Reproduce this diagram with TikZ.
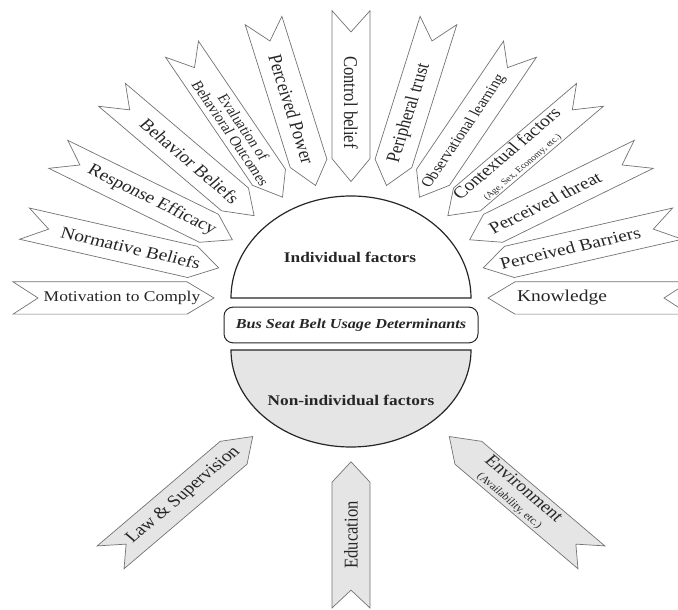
\documentclass[tikz,border=0pt]{standalone}
\usepackage{fontspec}
\setmainfont{Liberation Serif}
\begin{document}
\begin{tikzpicture}[x=1pt, y=1pt,
    factor/.style={draw=black!55, fill=white, line width=0.7pt},
    nonfactor/.style={factor, fill=gray!20},
    dome/.style={draw=black!85, line width=1.2pt},
    lbl/.style={inner sep=0pt, text=black!85, align=center, font=\fontsize{19.5}{20}\selectfont},
    lblsmall/.style={lbl, font=\fontsize{16}{15}\selectfont},
    head/.style={inner sep=0pt, text=black!85, yscale=0.85, font=\bfseries\fontsize{17.3}{18}\selectfont}]
\clip (0,0) rectangle (678,610);

% centre
\draw[dome, fill=white] (231,312) arc[start angle=180, end angle=0, x radius=120pt, y radius=102pt] -- cycle;
\draw[dome, fill=gray!20] (231,260) arc[start angle=180, end angle=360, x radius=120pt, y radius=97pt] -- cycle;
\node[draw=black!85, line width=1pt, rounded corners=9pt, minimum width=254pt, minimum height=42pt, yscale=0.85,
      text=black!85, font=\bfseries\itshape\fontsize{16.2}{17}\selectfont] (usage) at (351,285) {Bus Seat Belt Usage Determinants};
\node[head] (indiv) at (350,353) {Individual factors};
\node[head] (nonindiv) at (351,210) {Non-individual factors};

% individual factors
\begin{scope}[shift={(351,312)}, yscale=0.85, transform shape]
\draw[factor, rotate=180] (137,0) -- (164,19) -- (338,19) -- (313,0) -- (338,-19) -- (164,-19) -- cycle;
\draw[factor, rotate=165] (137,0) -- (164,19) -- (338,19) -- (313,0) -- (338,-19) -- (164,-19) -- cycle;
\draw[factor, rotate=150] (137,0) -- (164,19) -- (338,19) -- (313,0) -- (338,-19) -- (164,-19) -- cycle;
\draw[factor, rotate=135] (137,0) -- (164,19) -- (338,19) -- (313,0) -- (338,-19) -- (164,-19) -- cycle;
\draw[factor, rotate=120] (137,0) -- (164,19) -- (338,19) -- (313,0) -- (338,-19) -- (164,-19) -- cycle;
\draw[factor, rotate=105] (137,0) -- (164,19) -- (338,19) -- (313,0) -- (338,-19) -- (164,-19) -- cycle;
\draw[factor, rotate=90] (137,0) -- (164,19) -- (338,19) -- (313,0) -- (338,-19) -- (164,-19) -- cycle;
\draw[factor, rotate=75] (137,0) -- (164,19) -- (338,19) -- (313,0) -- (338,-19) -- (164,-19) -- cycle;
\draw[factor, rotate=60] (137,0) -- (164,19) -- (338,19) -- (313,0) -- (338,-19) -- (164,-19) -- cycle;
\draw[factor, rotate=45] (137,0) -- (164,19) -- (338,19) -- (313,0) -- (338,-19) -- (164,-19) -- cycle;
\draw[factor, rotate=30] (137,0) -- (164,19) -- (338,19) -- (313,0) -- (338,-19) -- (164,-19) -- cycle;
\draw[factor, rotate=15] (137,0) -- (164,19) -- (338,19) -- (313,0) -- (338,-19) -- (164,-19) -- cycle;
\draw[factor] (137,0) -- (164,19) -- (338,19) -- (313,0) -- (338,-19) -- (164,-19) -- cycle;
\node[lbl, font=\fontsize{17.5}{18}\selectfont] (motiv) at (180:229) {Motivation to Comply};
\node[lbl, rotate=-15] (norm) at (165:228) {Normative Beliefs};
\node[lbl, rotate=-30] (resp) at (150:230) {Response Efficacy};
\node[lbl, rotate=-45] (behav) at (135:228) {Behavior Beliefs};
\node[lblsmall, rotate=-60] (eval) at (120:228) {Evaluation of\\Behavioral Outcomes};
\node[lbl, rotate=-75] (power) at (105:230) {Perceived Power};
\node[lbl, rotate=-90] (ctrl) at (90:230) {Control belief};
\node[lbl, rotate=75] (trust) at (75:225) {Peripheral trust};
\node[lbl, rotate=60, font=\fontsize{16.5}{17}\selectfont] (observ) at (60:226) {Observational learning};
\node[lbl, rotate=45] (context) at (45:230) {Contextual factors\\[-1pt]{\fontsize{10}{10}\selectfont (Age, Sex, Economy, etc.)}};
\node[lbl, rotate=30] (threat) at (30:224) {Perceived threat};
\node[lbl, rotate=15] (barrier) at (15:227) {Perceived Barriers};
\node[lbl] (know) at (0:211) {Knowledge};
\end{scope}

% non-individual factors
\begin{scope}[shift={(351,257)}, yscale=0.85, transform shape]
\draw[nonfactor, rotate=225] (139,0) -- (166,19) -- (340,19) -- (318,0) -- (340,-19) -- (166,-19) -- cycle;
\draw[nonfactor, rotate=270] (128,0) -- (152,19) -- (300,19) -- (279,0) -- (300,-19) -- (152,-19) -- cycle;
\draw[nonfactor, rotate=315] (139,0) -- (166,19) -- (340,19) -- (318,0) -- (340,-19) -- (166,-19) -- cycle;
\node[lbl, rotate=45] (law) at (225:237) {Law \& Supervision};
\node[lbl, rotate=90] (edu) at (270:214) {Education};
\node[lbl, rotate=-45] (env) at (315:235) {Environment\\[-2pt]{\fontsize{12}{12}\selectfont (Availability, etc.)}};
\end{scope}
\end{tikzpicture}
\end{document}
